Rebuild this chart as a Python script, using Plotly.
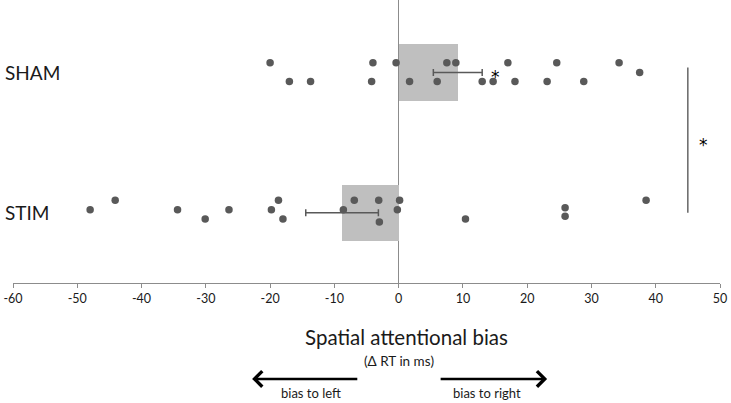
import plotly.graph_objects as go

# ---------------- data ----------------
groups = ["STIM", "SHAM"]
group_pos = [1, 2]
group_means = [-8.8, 9.2]
group_se = [5.65, 3.8]

sham_x = [-20.0, -4.0, -0.4, 7.5, 8.9, 17.0, 24.6, 34.3,
          37.5,
          -17.0, -13.7, -4.2, 1.7, 6.0, 13.0, 14.7, 18.1, 23.1, 28.8]
sham_jitter = [0.07] * 8 + [0.0] + [-0.065] * 10

stim_x = [-44.1, -18.7, -6.9, -3.1, 0.15, 38.5,
          -48.0, -34.4, -26.4, -19.8, -8.6, -0.2,
          -30.1, -18.0, 10.4,
          -3.0,
          25.9, 25.9]
stim_jitter = [0.088] * 6 + [0.021] * 6 + [-0.045] * 3 + [-0.066] + [0.036, -0.026]

x_ticks = list(range(-60, 51, 10))

DOT = "#595959"
AX = "#8c8c8c"
FONT = "Lato"
TXT = "#1a1a1a"

fig = go.Figure()

fig.add_trace(go.Bar(
    x=group_means, y=group_pos, orientation="h", width=0.4,
    marker=dict(color="#bfbfbf", line=dict(width=0)), showlegend=False,
))

fig.add_trace(go.Scatter(
    x=sham_x, y=[2 + j for j in sham_jitter], mode="markers",
    marker=dict(color=DOT, size=7.5), showlegend=False,
))
fig.add_trace(go.Scatter(
    x=stim_x, y=[1 + j for j in stim_jitter], mode="markers",
    marker=dict(color=DOT, size=7.5), showlegend=False,
))

fig.add_trace(go.Scatter(
    x=group_means, y=group_pos, mode="markers",
    marker=dict(size=1, opacity=0),
    error_x=dict(type="data", array=group_se, symmetric=True,
                 color=DOT, thickness=1.5, width=3.5),
    showlegend=False,
))

# significance bracket
fig.add_trace(go.Scatter(
    x=[45, 45], y=[1.0, 2.035], mode="lines",
    line=dict(color="#404040", width=1.2), showlegend=False,
))

fig.update_layout(
    width=731, height=403,
    margin=dict(l=13, r=11, t=0, b=120, pad=0, autoexpand=False),
    plot_bgcolor="white", paper_bgcolor="white",
    font=dict(family=FONT, color=TXT),
    bargap=0,
    xaxis=dict(
        range=[-60, 50], tickvals=x_ticks, ticktext=[str(v) for v in x_ticks],
        automargin=False,
        showgrid=False, zeroline=True, zerolinecolor=AX, zerolinewidth=1,
        showline=True, linecolor=AX, linewidth=1,
        ticks="outside", ticklen=4, tickcolor=AX, tickwidth=1,
        tickfont=dict(size=12.5, family=FONT, color=TXT),
    ),
    yaxis=dict(
        range=[0.4986, 2.517], showgrid=False, zeroline=False, automargin=False,
        showticklabels=False, showline=False, ticks="",
    ),
)

# category labels
for name, pos in zip(groups, group_pos):
    fig.add_annotation(x=-60, y=pos, xref="x", yref="y", text=name,
                       showarrow=False, xanchor="left", xshift=-10,
                       font=dict(size=19, family=FONT, color=TXT))

# stars
fig.add_annotation(x=15, y=2, xref="x", yref="y", text="*", showarrow=False,
                   yshift=-5, font=dict(size=17, family="DejaVu Sans", color="black"))
fig.add_annotation(x=47.4, y=1.52, xref="x", yref="y", text="*", showarrow=False,
                   yshift=-5, font=dict(size=17, family="DejaVu Sans", color="black"))

# axis titles
fig.add_annotation(x=1.3, y=-0.19, xref="x", yref="paper", yanchor="middle",
                   text="Spatial attentional bias", showarrow=False,
                   font=dict(size=20.5, family=FONT, color=TXT))
fig.add_annotation(x=0, y=-0.276, xref="x", yref="paper", yanchor="middle",
                   text="(Δ RT in ms)", showarrow=False,
                   font=dict(size=13.5, family=FONT, color=TXT))

# arrows
fig.add_annotation(x=-22.8, y=-0.339, ax=-6.2, ay=0,
                   xref="x", yref="paper", axref="x", ayref="pixel",
                   text="", showarrow=True, arrowhead=4, arrowsize=1.2,
                   arrowwidth=2.5, arrowcolor="black")
fig.add_annotation(x=23.1, y=-0.339, ax=6.3, ay=0,
                   xref="x", yref="paper", axref="x", ayref="pixel",
                   text="", showarrow=True, arrowhead=4, arrowsize=1.2,
                   arrowwidth=2.5, arrowcolor="black")
fig.add_annotation(x=-13.6, y=-0.39, xref="x", yref="paper", yanchor="middle",
                   text="bias to left", showarrow=False,
                   font=dict(size=13, family=FONT, color=TXT))
fig.add_annotation(x=13.8, y=-0.39, xref="x", yref="paper", yanchor="middle",
                   text="bias to right", showarrow=False,
                   font=dict(size=13, family=FONT, color=TXT))

fig.write_html("out.html", config={"displayModeBar": False},
               post_script="document.body.style.margin='0';document.body.style.overflow='hidden';")
